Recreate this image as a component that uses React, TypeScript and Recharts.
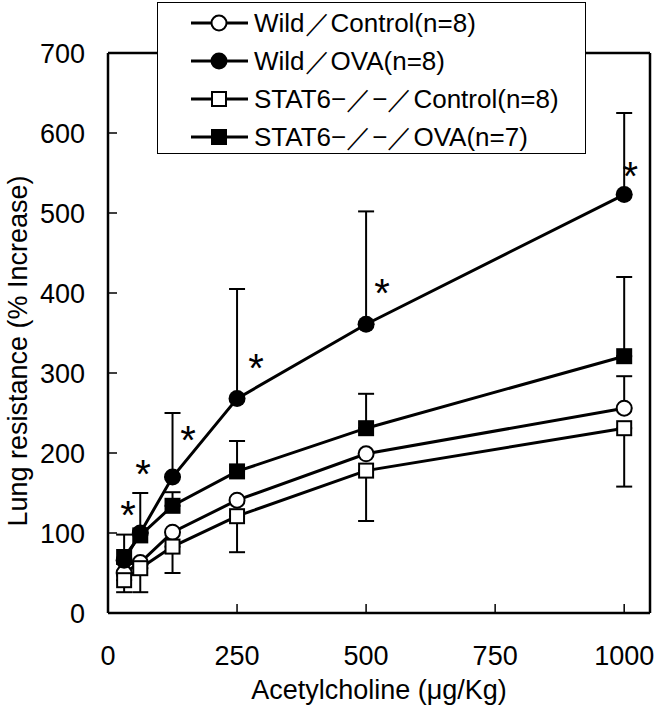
import {
  ComposedChart, Line, XAxis, YAxis, ErrorBar, Scatter,
  ReferenceLine, Legend, Label,
} from "recharts"

const doses = [31.25, 62.5, 125, 250, 500, 1000]

const wildControl = [50, 63, 101, 141, 199, 256]
const wildOva = [66, 100, 170, 268, 361, 523]
const statControl = [41, 56, 83, 121, 178, 231]
const statOva = [70, 97, 134, 177, 231, 321]

// SD bars: OVA groups drawn upward, STAT6 control downward
const wildControlUp = [null, null, null, null, null, 40]
const wildOvaUp = [32, 50, 80, 137, 141, 102]
const statControlDown = [15, 30, 33, 45, 63, 73]
const statOvaUp = [null, null, 17, 38, 43, 99]

// asterisks (p < 0.05) next to Wild/OVA points
const starDose = [39, 68, 155, 287, 531, 1012]
const starValue = [132, 184, 226, 316, 410, 556]

const xTicks = [0, 250, 500, 750, 1000]
const yTicks = [0, 100, 200, 300, 400, 500, 600, 700]

const FONT = '"Liberation Sans", Arial, sans-serif'

const up = (v: number | null) => (v == null ? null : [0, v])
const down = (v: number | null) => (v == null ? null : [v, 0])

const chartData = doses.map((d, i) => ({
  dose: d,
  wc: wildControl[i],
  wo: wildOva[i],
  sc: statControl[i],
  so: statOva[i],
  wcErr: up(wildControlUp[i]),
  woErr: up(wildOvaUp[i]),
  scErr: down(statControlDown[i]),
  soErr: up(statOvaUp[i]),
}))

const starData = starDose.map((d, i) => ({ dose: d, value: starValue[i] }))

type Shape = "circle" | "square"

const series: { key: string; err: string; name: string; shape: Shape; filled: boolean }[] = [
  { key: "wc", err: "wcErr", name: "Wild／Control(n=8)", shape: "circle", filled: false },
  { key: "wo", err: "woErr", name: "Wild／OVA(n=8)", shape: "circle", filled: true },
  { key: "sc", err: "scErr", name: "STAT6−／−／Control(n=8)", shape: "square", filled: false },
  { key: "so", err: "soErr", name: "STAT6−／−／OVA(n=7)", shape: "square", filled: true },
]

function Marker({ cx, cy, shape, filled }: { cx: number; cy: number; shape: Shape; filled: boolean }) {
  if (shape === "circle") {
    return filled
      ? <circle cx={cx} cy={cy} r={8.5} fill="#000" />
      : <circle cx={cx} cy={cy} r={7.5} fill="#fff" stroke="#000" strokeWidth={2} />
  }
  return filled
    ? <rect x={cx - 8} y={cy - 8} width={16} height={16} fill="#000" />
    : <rect x={cx - 7} y={cy - 7} width={14} height={14} fill="#fff" stroke="#000" strokeWidth={2} />
}

function YTick({ x, y, payload }: any) {
  return (
    <g>
      <line x1={x} x2={x + 9} y1={y} y2={y} stroke="#000" strokeWidth={1.5} />
      <text x={x - 23} y={y} dy={10} textAnchor="end" fontSize={27} fontFamily={FONT} fill="#000">
        {payload.value}
      </text>
    </g>
  )
}

function XTick({ x, y, payload }: any) {
  return (
    <g>
      <line x1={x} x2={x} y1={y} y2={y - 9} stroke="#000" strokeWidth={1.5} />
      <text x={x} y={y} dy={52} textAnchor="middle" fontSize={27} fontFamily={FONT} fill="#000">
        {payload.value}
      </text>
    </g>
  )
}

function Star({ cx, cy }: any) {
  return (
    <text x={cx} y={cy} dy={22} textAnchor="middle" fontSize={40} fontFamily={FONT} fill="#000">
      *
    </text>
  )
}

function LegendBox() {
  return (
    <div
      style={{
        width: 429, height: 152, boxSizing: "border-box",
        border: "1.5px solid #000", background: "#fff",
        fontFamily: FONT, fontSize: 26, color: "#000", paddingTop: 1,
      }}
    >
      {series.map((s) => (
        <div key={s.key} style={{ height: 38, display: "flex", alignItems: "center" }}>
          <svg width={96} height={38} style={{ flex: "none" }}>
            <line x1={33} x2={90} y1={19} y2={19} stroke="#000" strokeWidth={3} />
            <Marker cx={61} cy={19} shape={s.shape} filled={s.filled} />
          </svg>
          <span style={{ whiteSpace: "nowrap" }}>{s.name}</span>
        </div>
      ))}
    </div>
  )
}

export default function App() {
  return (
    <div style={{ position: "absolute", left: 0, top: 0, background: "#fff" }}>
      <ComposedChart
        width={656}
        height={719}
        data={chartData}
        margin={{ top: 53, right: 6, left: 0, bottom: 0 }}
      >
        <XAxis
          dataKey="dose"
          type="number"
          domain={[0, 1050]}
          ticks={xTicks}
          height={106}
          tickSize={0}
          tickMargin={0}
          tickLine={false}
          tick={<XTick />}
          axisLine={{ stroke: "#000", strokeWidth: 2.5 }}
        >
          <Label
            content={({ viewBox }: any) => (
              <text
                x={viewBox.x + viewBox.width / 2}
                y={viewBox.y + 86}
                textAnchor="middle"
                fontSize={27}
                fontFamily={FONT}
                fill="#000"
              >
                Acetylcholine (μg/Kg)
              </text>
            )}
          />
        </XAxis>
        <YAxis
          type="number"
          domain={[0, 700]}
          ticks={yTicks}
          width={108}
          tickSize={0}
          tickMargin={0}
          tickLine={false}
          tick={<YTick />}
          axisLine={{ stroke: "#000", strokeWidth: 2.5 }}
        >
          <Label
            content={({ viewBox }: any) => {
              const cx = viewBox.x + 18
              const cy = viewBox.y + viewBox.height / 2 + 18
              return (
                <text
                  x={cx}
                  y={cy}
                  transform={`rotate(-90 ${cx} ${cy})`}
                  textAnchor="middle"
                  dominantBaseline="central"
                  fontSize={27}
                  fontFamily={FONT}
                  fill="#000"
                >
                  Lung resistance (% Increase)
                </text>
              )
            }}
          />
        </YAxis>
        <ReferenceLine y={700} stroke="#000" strokeWidth={2.5} />
        <ReferenceLine x={1050} stroke="#000" strokeWidth={2.5} />

        {series.map((s) => (
          <Line
            key={s.key}
            dataKey={s.key}
            name={s.name}
            type="linear"
            stroke="#000"
            strokeWidth={3}
            isAnimationActive={false}
            activeDot={false}
            dot={(p: any) => (
              <Marker key={`${s.key}-${p.index}`} cx={p.cx} cy={p.cy} shape={s.shape} filled={s.filled} />
            )}
          >
            <ErrorBar dataKey={s.err} width={8} stroke="#000" strokeWidth={2} direction="y" />
          </Line>
        ))}

        <Scatter data={starData} dataKey="value" shape={<Star />} isAnimationActive={false} legendType="none" />

        <Legend
          verticalAlign="middle"
          align="center"
          layout="horizontal"
          wrapperStyle={{ left: 157, top: 2, width: 429, height: 152 }}
          content={() => <LegendBox />}
        />
      </ComposedChart>
    </div>
  )
}
